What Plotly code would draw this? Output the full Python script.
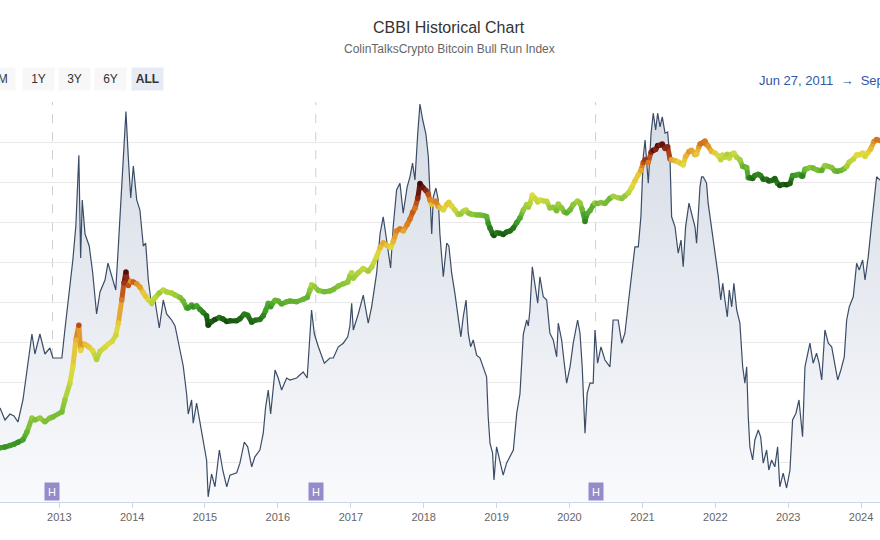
import plotly.graph_objects as go

dates = [
"2012-02-24","2012-03-10","2012-04-04","2012-04-29","2012-05-19","2012-06-08","2012-07-03","2012-07-23","2012-08-17","2012-09-01",
"2012-09-26","2012-10-21","2012-11-15","2012-11-30","2013-01-14","2013-01-29","2013-02-23","2013-03-10","2013-03-25","2013-04-09",
"2013-04-18","2013-04-26","2013-05-10","2013-05-21","2013-05-31","2013-06-17","2013-07-07","2013-07-24","2013-08-18","2013-09-02",
"2013-09-22","2013-10-11","2013-10-24","2013-11-10","2013-11-21","2013-12-01","2013-12-13","2013-12-25","2014-01-07","2014-01-24",
"2014-02-09","2014-02-26","2014-03-10","2014-03-23","2014-04-09","2014-04-25","2014-05-17","2014-06-06","2014-06-23","2014-07-18",
"2014-08-04","2014-08-29","2014-09-14","2014-10-01","2014-10-09","2014-10-26","2014-11-03","2014-11-20","2014-12-07","2014-12-23",
"2015-01-09","2015-01-17","2015-02-03","2015-02-20","2015-03-14","2015-03-31","2015-04-20","2015-05-06","2015-06-09","2015-06-25",
"2015-07-17","2015-08-03","2015-08-23","2015-09-08","2015-10-03","2015-10-20","2015-11-01","2015-11-14","2015-11-26","2015-12-06",
"2015-12-18","2016-01-03","2016-01-20","2016-02-14","2016-03-02","2016-04-04","2016-05-07","2016-05-27","2016-06-10","2016-06-18",
"2016-07-02","2016-07-22","2016-08-21","2016-09-18","2016-10-05","2016-10-30","2016-11-24","2016-12-16","2016-12-27","2017-01-05",
"2017-01-13","2017-02-07","2017-03-04","2017-03-29","2017-04-15","2017-05-10","2017-05-27","2017-06-12","2017-06-29","2017-07-19",
"2017-08-01","2017-08-18","2017-09-04","2017-09-20","2017-10-10","2017-10-24","2017-11-06","2017-11-18","2017-12-02","2017-12-13",
"2017-12-27","2018-01-12","2018-01-24","2018-02-01","2018-02-10","2018-02-18","2018-03-03","2018-03-15","2018-03-23","2018-04-09",
"2018-04-26","2018-05-07","2018-05-21","2018-06-06","2018-06-23","2018-07-06","2018-07-18","2018-08-01","2018-08-12","2018-08-24",
"2018-09-06","2018-09-23","2018-10-10","2018-10-26","2018-11-12","2018-11-20","2018-11-29","2018-12-12","2018-12-19","2019-01-01",
"2019-01-18","2019-02-03","2019-02-20","2019-03-09","2019-03-26","2019-04-12","2019-04-28","2019-05-15","2019-06-01","2019-06-09",
"2019-06-17","2019-06-29","2019-07-12","2019-07-26","2019-08-06","2019-08-23","2019-09-09","2019-09-25","2019-10-12","2019-10-29",
"2019-11-06","2019-11-23","2019-12-06","2019-12-18","2020-01-04","2020-01-20","2020-02-11","2020-02-23","2020-03-05","2020-03-19",
"2020-03-30","2020-04-13","2020-04-29","2020-05-08","2020-05-21","2020-06-07","2020-06-27","2020-07-22","2020-08-07","2020-09-01",
"2020-09-19","2020-10-05","2020-10-22","2020-11-08","2020-11-24","2020-12-11","2020-12-24","2021-01-05","2021-01-14","2021-01-30",
"2021-02-13","2021-02-24","2021-03-08","2021-03-18","2021-03-30","2021-04-10","2021-04-24","2021-05-07","2021-05-19","2021-05-27",
"2021-06-13","2021-06-29","2021-07-13","2021-07-24","2021-08-05","2021-08-22","2021-09-04","2021-09-21","2021-09-29","2021-10-11",
"2021-10-16","2021-10-24","2021-11-01","2021-11-10","2021-11-18","2021-11-26","2021-12-13","2021-12-30","2022-01-16","2022-01-28",
"2022-02-07","2022-02-18","2022-03-02","2022-03-12","2022-03-24","2022-04-04","2022-04-18","2022-05-04","2022-05-18","2022-05-29",
"2022-06-07","2022-06-15","2022-06-23","2022-07-07","2022-07-18","2022-08-04","2022-08-16","2022-08-29","2022-09-15","2022-09-26",
"2022-10-10","2022-10-26","2022-11-09","2022-11-20","2022-12-07","2022-12-24","2023-01-10","2023-01-23","2023-02-09","2023-02-24",
"2023-03-06","2023-03-14","2023-03-26","2023-04-06","2023-04-20","2023-05-06","2023-05-23","2023-06-05","2023-06-18","2023-07-04",
"2023-07-21","2023-08-07","2023-08-23","2023-09-06","2023-09-22","2023-10-09","2023-10-21","2023-11-03","2023-11-23","2023-12-10",
"2023-12-23","2024-01-09","2024-01-21","2024-02-06","2024-02-18","2024-03-06","2024-03-19","2024-04-05","2024-04-25",
]

cbbi = [
21.0,23.5,20.5,22.0,21.5,20.0,25.5,33.0,42.0,37.0,
42.0,37.0,38.5,36.0,36.0,43.0,53.0,60.5,69.0,86.7,
61.0,75.5,67.0,65.5,64.0,57.5,47.0,52.5,55.5,59.7,
56.0,53.0,64.0,79.7,90.5,97.6,86.0,76.0,84.0,75.5,
73.0,64.0,64.7,55.5,49.0,50.5,43.5,50.5,47.0,45.5,
44.0,38.0,34.0,27.0,22.0,25.5,19.7,24.7,19.7,15.5,
10.5,1.3,7.0,3.8,13.0,8.0,3.8,6.7,7.3,9.7,
15.0,13.8,8.8,11.3,13.0,17.2,23.8,28.0,22.0,27.0,
33.0,31.0,28.0,31.0,30.5,31.0,32.5,31.0,40.5,48.0,
42.0,38.8,34.7,36.0,36.0,38.8,39.7,41.3,44.0,49.7,
43.0,47.0,51.7,44.7,48.8,57.2,67.0,71.3,65.5,58.5,
68.8,78.0,79.7,72.2,78.8,81.3,84.7,80.5,92.2,99.5,
95.5,92.0,86.3,78.0,67.0,76.3,78.5,75.5,67.0,56.3,
64.7,64.0,57.2,52.2,45.5,41.3,46.3,50.5,42.2,38.8,
40.5,36.7,36.0,33.8,31.3,21.3,14.7,12.2,5.5,13.8,
9.7,6.7,9.7,11.3,13.0,22.2,27.0,42.0,45.5,44.0,
48.0,58.8,53.8,49.7,56.3,51.3,50.5,42.2,40.5,36.3,
44.7,40.5,34.7,29.7,33.8,39.7,45.5,42.2,33.8,17.2,
27.2,29.7,29.7,43.0,34.7,38.8,35.5,33.8,45.5,45.5,
39.7,42.2,49.7,57.2,63.8,63.8,71.3,86.3,90.5,79.7,
92.2,97.2,93.0,97.2,93.8,96.3,92.2,92.5,85.5,71.3,
68.8,62.2,65.5,58.8,68.8,74.7,72.2,68.8,64.7,73.0,
78.8,81.3,81.3,80.5,79.7,74.7,68.8,63.0,56.3,50.5,
54.7,50.5,46.3,53.0,48.8,54.7,48.0,44.7,33.8,29.7,
33.8,21.3,13.8,10.5,15.5,18.0,16.3,9.7,13.0,8.0,
10.5,8.8,13.8,3.8,7.2,3.5,8.0,20.5,22.2,25.5,
20.5,16.3,33.8,36.3,39.7,34.7,37.2,34.7,30.5,43.0,
39.7,38.8,33.8,30.5,33.0,36.3,45.5,48.8,51.3,59.7,
58.0,60.5,55.5,61.3,67.2,76.3,81.3,80.5,79.0,
]

price = [
4.1,4.2,4.3,4.5,4.7,5.0,5.4,6.9,10.7,10.1,
10.7,9.5,10.7,11.1,13.0,19.0,32.0,54.0,126,200,
90,110,110,105,100,90,68,88,100,110,
120,145,215,444,760,1074,700,800,784,740,
670,554,500,444,404,473,554,610,572,554,
520,480,430,345,345,380,356,370,330,300,
270,200,225,240,255,245,225,230,230,245,
285,275,220,235,240,270,320,400,360,400,
440,430,390,420,430,420,455,480,610,720,
680,600,575,590,620,690,740,780,950,1050,
880,1050,1200,1100,1250,1750,2300,2700,2500,2300,
2800,3900,4200,3900,4800,5700,7000,8000,11000,17500,
15500,14000,12500,10400,9000,10000,10000,8500,8200,7600,
9000,9700,8600,7600,6600,6700,7300,7600,6900,6700,
6600,6500,6500,6400,6200,5000,4300,3600,3400,3700,
3650,3500,3800,3900,4300,5100,5900,7600,9000,8300,
9300,12200,11000,9800,10400,10100,10000,8100,8300,7400,
9200,8100,7130,6900,7600,9000,10100,9500,7700,5300,
6800,7400,8800,9500,9300,9600,9300,11000,11700,11200,
10900,11800,13000,15500,19000,23000,26500,34000,37000,34000,
47000,50000,51000,58000,58500,61000,53000,56000,38000,37000,
36000,34500,33000,31500,41000,48000,50000,43500,44000,56000,
61000,62000,64000,67000,60000,57000,48000,46000,42000,37000,
43000,40000,44000,39000,44000,46000,40000,37000,30000,29500,
29000,21000,21000,20500,22500,23500,22500,20000,20000,19000,
19200,20500,17500,16500,17000,16800,17500,22500,22800,23500,
22400,22000,27500,28000,29000,28500,27000,26500,26500,31000,
30000,29000,26000,25800,26500,28000,30000,34500,37500,43500,
43000,46000,41000,47000,52000,66000,70000,68000,65000,
]

halvings = ["2012-11-28", "2016-07-09", "2020-05-11", "2024-04-20"]
year_ticks = ["2013-01-01","2014-01-01","2015-01-01","2016-01-01","2017-01-01","2018-01-01",
              "2019-01-01","2020-01-01","2021-01-01","2022-01-01","2023-01-01","2024-01-01"]
year_labels = ["2013","2014","2015","2016","2017","2018","2019","2020","2021","2022","2023","2024"]
range_buttons = ["1M", "1Y", "3Y", "6Y", "ALL"]

W = 880.0
FONT = "Liberation Sans, Arial, sans-serif"

SCALE = [[0.0, "#123d0c"], [0.1, "#1f6a15"], [0.25, "#45a42a"],
         [0.4, "#8cc63b"], [0.5, "#bcd63c"], [0.6, "#e4da40"],
         [0.7, "#e6b232"], [0.8, "#d87a20"], [0.88, "#b4461a"],
         [0.94, "#7a1c10"], [1.0, "#3a0806"]]


def _hex(c):
    c = c.lstrip("#")
    return [int(c[i:i + 2], 16) for i in (0, 2, 4)]


def scale_color(v):
    t = max(0.0, min(1.0, v / 100.0))
    for (p0, c0), (p1, c1) in zip(SCALE[:-1], SCALE[1:]):
        if p0 <= t <= p1:
            f = 0 if p1 == p0 else (t - p0) / (p1 - p0)
            a, b = _hex(c0), _hex(c1)
            return "rgb(%d,%d,%d)" % tuple(round(a[i] + (b[i] - a[i]) * f) for i in range(3))
    return SCALE[-1][1]


fig = go.Figure()

fig.add_trace(go.Scatter(
    x=dates, y=cbbi, mode="lines", name="CBBI",
    line=dict(color="#3b4c66", width=1.2),
    fill="tozeroy",
    fillgradient=dict(type="vertical",
                      colorscale=[[0, "rgba(249,250,252,1)"], [1, "rgba(214,220,230,1)"]],
                      start=0, stop=100),
    hoverinfo="skip", showlegend=False,
))

# price band: thick segments coloured by the confidence value, plus dots
for i in range(len(dates) - 1):
    fig.add_trace(go.Scatter(
        x=dates[i:i + 2], y=price[i:i + 2], mode="lines", yaxis="y2",
        line=dict(color=scale_color((cbbi[i] + cbbi[i + 1]) / 2.0), width=5),
        hoverinfo="skip", showlegend=False,
    ))

fig.add_trace(go.Scatter(
    x=dates, y=price, mode="markers", name="BTC Price", yaxis="y2",
    marker=dict(size=5.5, color=cbbi, cmin=0, cmax=100, colorscale=SCALE, line=dict(width=0)),
    showlegend=False,
))

shapes = []
annotations = []
for h in halvings:
    shapes.append(dict(type="line", xref="x", yref="paper", x0=h, x1=h, y0=0.047, y1=1,
                       line=dict(color="#cfcfcf", width=1, dash="dash"), layer="below"))
    annotations.append(dict(x=h, xref="x", y=0, yref="y", yanchor="bottom", xanchor="center",
                            text="H", showarrow=False, bgcolor="#958bcb", width=14, height=17,
                            borderpad=0, font=dict(color="white", size=11, family=FONT), yshift=1))


def py(ypix):
    return (502 - ypix) / 400.0


annotations.append(dict(x=449 / W, xref="paper", y=py(28), yref="paper", text="CBBI Historical Chart",
                        showarrow=False, font=dict(size=16, color="#333333", family=FONT),
                        xanchor="center", yanchor="middle"))
annotations.append(dict(x=449 / W, xref="paper", y=py(49), yref="paper",
                        text="ColinTalksCrypto Bitcoin Bull Run Index",
                        showarrow=False, font=dict(size=12, color="#666666", family=FONT),
                        xanchor="center", yanchor="middle"))

btn_x = [-1, 38, 74, 110, 147]
for lbl, bx in zip(range_buttons, btn_x):
    sel = lbl == "ALL"
    annotations.append(dict(x=bx / W, xref="paper", y=py(79), yref="paper",
                            text="<b>%s</b>" % lbl if sel else lbl, showarrow=False,
                            bgcolor="#e6ebf5" if sel else "#f7f7f7", width=31, height=22,
                            borderpad=0, font=dict(size=12, color="#333333", family=FONT),
                            xanchor="center", yanchor="middle"))

annotations.append(dict(x=757 / W, xref="paper", y=py(80), yref="paper",
                        text="Jun 27, 2011  \u2192  Sep 19, 2024", showarrow=False,
                        font=dict(size=13, color="#3356a8", family=FONT),
                        xanchor="left", yanchor="middle"))

fig.update_layout(
    width=880, height=540,
    margin=dict(l=0, r=0, t=102, b=38),
    paper_bgcolor="white", plot_bgcolor="white",
    shapes=shapes, annotations=annotations,
    xaxis=dict(type="date", range=["2012-03-10", "2024-04-05"],
               tickvals=year_ticks, ticktext=year_labels,
               showgrid=False, showline=True, linecolor="#ccd6eb", linewidth=1,
               ticks="outside", ticklen=5, tickcolor="#ccd6eb",
               tickfont=dict(size=11, color="#666666", family=FONT), zeroline=False),
    yaxis=dict(range=[0, 100], dtick=10, showgrid=True, gridcolor="#e9e9e9", gridwidth=1,
               showticklabels=False, zeroline=False, showline=False),
    yaxis2=dict(type="log", range=[-0.12, 5.36], overlaying="y", side="right",
                showgrid=False, showticklabels=False, zeroline=False, showline=False),
    showlegend=False,
)

fig.write_html("out.html")
